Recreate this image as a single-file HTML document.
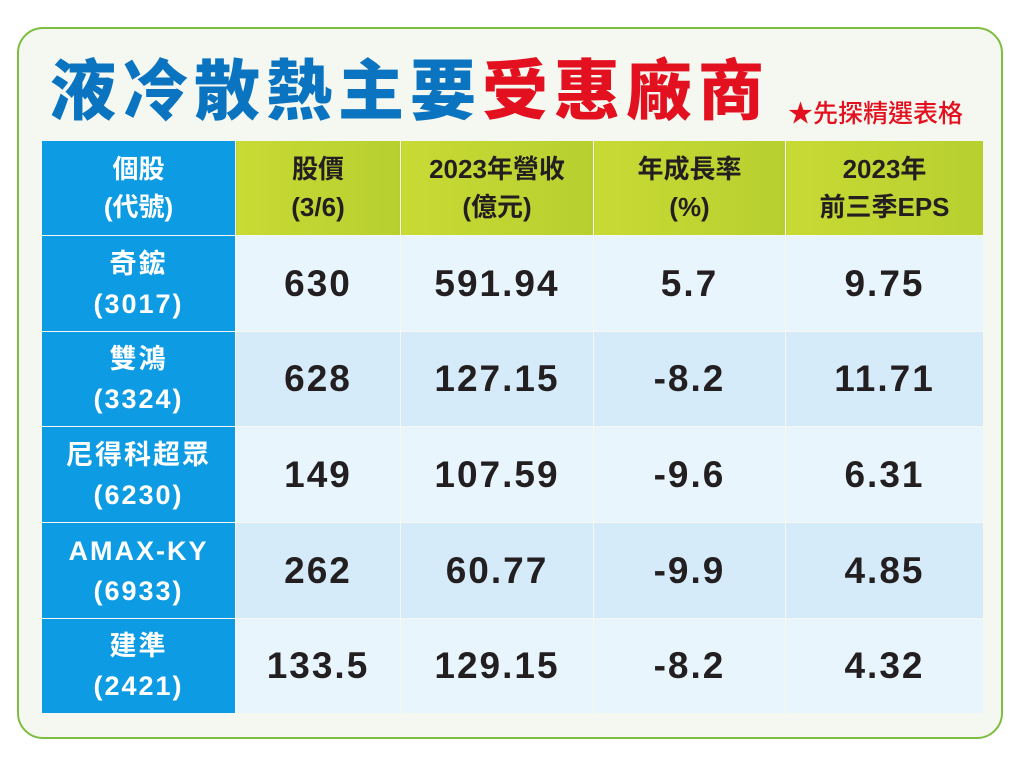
<!DOCTYPE html>
<html><head><meta charset="utf-8">
<style>
html,body{margin:0;padding:0;background:#fff;}
body{width:1024px;height:767px;position:relative;overflow:hidden;font-family:"Liberation Sans","Noto Sans CJK TC",sans-serif;}
.card{position:absolute;left:17px;top:27px;width:986px;height:712px;border:2px solid #7dbd3f;border-radius:26px;background:#f4f8f0;box-sizing:border-box;}
.title{position:absolute;left:50px;top:44px;font-size:66px;font-weight:900;letter-spacing:6px;line-height:84px;white-space:nowrap;font-family:"Noto Sans CJK TC",sans-serif;}
.title .b{color:#0b74c1}.title .r{color:#e3101f}
.sub{position:absolute;left:788px;top:94px;font-size:25px;color:#e3101f;font-family:"Noto Sans CJK TC",sans-serif;font-weight:500;white-space:nowrap;}
table{position:absolute;left:41px;top:140px;border-collapse:collapse;table-layout:fixed;}
td{border:1.5px solid #f4f8f0;text-align:center;padding:0;}
th{border:1.5px solid #f4f8f0;padding:0;text-align:center;font-weight:700;font-size:26px;line-height:38px;color:#231f20;background:linear-gradient(90deg,#c8da34,#b7d030);font-family:"Liberation Sans","Noto Sans CJK TC",sans-serif;}
th.first{background:#0d9be3;color:#fff;}
td.name{background:#0d9be3;color:#fff;font-size:27px;font-weight:700;line-height:40px;letter-spacing:2px;}
td.v{font-size:37px;font-weight:700;color:#231f20;letter-spacing:2px;}
tr.odd td.v{background:#e8f5fd}
tr.even td.v{background:#d5ebf9}
</style></head><body>
<div class="card"></div>
<div class="title"><span class="b">液冷散熱主要</span><span class="r">受惠廠商</span></div>
<div class="sub">★先探精選表格</div>
<table>
<colgroup><col style="width:194px"><col style="width:165px"><col style="width:193px"><col style="width:192px"><col style="width:198px"></colgroup>
<tr style="height:95px">
<th class="first">個股<br>(代號)</th>
<th>股價<br>(3/6)</th>
<th>2023年營收<br>(億元)</th>
<th>年成長率<br>(%)</th>
<th>2023年<br>前三季EPS</th>
</tr>
<tr class="odd" style="height:96px"><td class="name">奇鋐<br>(3017)</td><td class="v">630</td><td class="v">591.94</td><td class="v">5.7</td><td class="v">9.75</td></tr>
<tr class="even" style="height:95px"><td class="name">雙鴻<br>(3324)</td><td class="v">628</td><td class="v">127.15</td><td class="v">-8.2</td><td class="v">11.71</td></tr>
<tr class="odd" style="height:96px"><td class="name">尼得科超眾<br>(6230)</td><td class="v">149</td><td class="v">107.59</td><td class="v">-9.6</td><td class="v">6.31</td></tr>
<tr class="even" style="height:96px"><td class="name">AMAX-KY<br>(6933)</td><td class="v">262</td><td class="v">60.77</td><td class="v">-9.9</td><td class="v">4.85</td></tr>
<tr class="odd" style="height:95px"><td class="name">建準<br>(2421)</td><td class="v">133.5</td><td class="v">129.15</td><td class="v">-8.2</td><td class="v">4.32</td></tr>
</table>
</body></html>
